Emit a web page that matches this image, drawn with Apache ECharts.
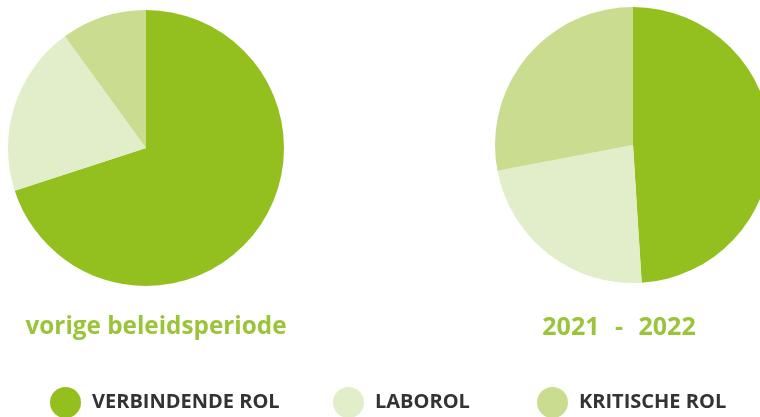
<!DOCTYPE html>
<html>
<head>
<meta charset="utf-8">
<script src="https://cdn.jsdelivr.net/npm/echarts@6/dist/echarts.min.js"></script>
<style>html,body{margin:0;padding:0;background:#fff}#c{width:760px;height:417px}</style>
</head>
<body>
<div id="c"></div>
<script>
var roles = ['VERBINDENDE ROL', 'LABOROL', 'KRITISCHE ROL'];
var roleColors = ['#93C01F', '#E2EDC9', '#CADC90'];
var periods = ['vorige beleidsperiode', '2021 - 2022'];
var valuesPrevious = [70, 20, 10];
var valuesCurrent = [49, 23, 28];

function mk(vals) {
  return roles.map(function (r, i) {
    return { name: r, value: vals[i], itemStyle: { color: roleColors[i] } };
  });
}

var chart = echarts.init(document.getElementById('c'), null, { renderer: 'canvas' });
var font = '"Open Sans", sans-serif';
var legendLefts = [50, 333, 537];
var titleStyle = { color: '#9BC43A', fontSize: 24.3, fontWeight: 'bold', fontFamily: font };
var titleStyle2 = { color: '#9BC43A', fontSize: 25, fontWeight: 'bold', fontFamily: font };
var periodParts = periods[1].split(' - ');
chart.setOption({
  animation: false,
  backgroundColor: '#ffffff',
  title: [
    { text: periods[0], left: 156, top: 315, textAlign: 'center', padding: 0,
      textStyle: titleStyle },
    { text: periodParts[0] + ' {s|-} ' + periodParts[1], left: 619, top: 315, textAlign: 'center', padding: 0,
      textStyle: Object.assign({}, titleStyle2, {
        rich: { s: Object.assign({}, titleStyle2, { padding: [0, 9] }) }
      }) }
  ],
  legend: roles.map(function (r, i) {
    return {
      data: [r], left: legendLefts[i], top: 387, icon: 'circle', padding: 0,
      itemWidth: 31, itemHeight: 31, selectedMode: false,
      textStyle: { color: '#333333', fontSize: 20, fontWeight: 'bold', fontFamily: font, padding: [0, 0, 0, 6] }
    };
  }),
  series: [
    { type: 'pie', center: [146, 148], radius: 138, startAngle: 90, clockwise: true,
      label: { show: false }, labelLine: { show: false }, silent: true,
      data: mk(valuesPrevious) },
    { type: 'pie', center: [633, 145], radius: 138, startAngle: 90, clockwise: true,
      label: { show: false }, labelLine: { show: false }, silent: true,
      data: mk(valuesCurrent) }
  ]
});
</script>
</body>
</html>
